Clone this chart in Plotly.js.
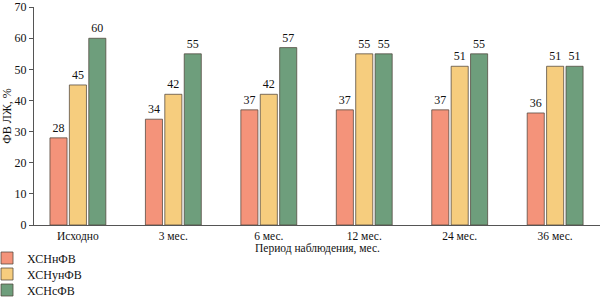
<!DOCTYPE html>
<html><head><meta charset="utf-8">
<script src="https://cdn.plot.ly/plotly-3.0.1.min.js"></script>
<style>html,body{margin:0;padding:0;background:#fff}</style>
</head><body>
<div id="chart" style="width:600px;height:298px"></div>
<script>
var categories = ["Исходно", "3 мес.", "6 мес.", "12 мес.", "24 мес.", "36 мес."];
var seriesNames = ["ХСНнФВ", "ХСНунФВ", "ХСНсФВ"];
var hfrEF = [28, 34, 37, 37, 37, 36];
var hfmrEF = [45, 42, 42, 55, 51, 51];
var hfpEF = [60, 55, 57, 55, 55, 51];
var yTicks = [0, 10, 20, 30, 40, 50, 60, 70];
var xTitle = "Период наблюдения, мес.";
var yTitle = "ФВ ЛЖ, %";

var colors = ["#F4937A", "#F6CD7E", "#6E9E7C"];
var values = [hfrEF, hfmrEF, hfpEF];
var legendIds = ["legend", "legend2", "legend3"];
var serif = "Liberation Serif";

var traces = values.map(function (v, i) {
  return {
    type: "bar",
    name: seriesNames[i],
    legend: legendIds[i],
    x: categories,
    y: v,
    text: v.map(String),
    textposition: "outside",
    textfont: {family: serif, size: 12, color: "#111"},
    cliponaxis: false,
    marker: {color: colors[i], line: {color: "rgba(80,70,60,0.75)", width: 1}},
    hoverinfo: "none"
  };
});

function leg(yPx) {
  return {
    xref: "paper", yref: "container",
    x: -0.083, xanchor: "left",
    y: 1 - yPx / 298, yanchor: "middle",
    font: {family: serif, size: 12, color: "#111"},
    bgcolor: "rgba(0,0,0,0)",
    borderwidth: 0
  };
}

var layout = {
  width: 600, height: 298,
  margin: {l: 34, r: 0, t: 7, b: 73, autoexpand: false},
  paper_bgcolor: "#fff", plot_bgcolor: "#fff",
  barmode: "group",
  bargap: 0.39,
  bargroupgap: 0.12,
  font: {family: serif, size: 12, color: "#111"},
  xaxis: {
    type: "category",
    range: [-0.46, 5.47],
    showline: true, linecolor: "#555", linewidth: 1,
    ticks: "", showgrid: false, zeroline: false,
    tickfont: {family: serif, size: 11.5, color: "#111"}
  },
  yaxis: {
    range: [0, 70.05],
    tickvals: yTicks,
    ticktext: yTicks.map(String),
    ticklabeloverflow: "allow",
    showline: true, linecolor: "#555", linewidth: 1,
    ticks: "outside", ticklen: 4, tickcolor: "#555",
    showgrid: false, zeroline: false,
    tickfont: {family: serif, size: 12, color: "#111"},
    title: {text: yTitle, font: {family: serif, size: 12, color: "#111"}, standoff: 2}
  },
  annotations: [{
    text: xTitle, xref: "paper", yref: "paper",
    x: 0.5, y: -0.108, xanchor: "center", yanchor: "middle",
    showarrow: false, font: {family: serif, size: 11.5, color: "#111"}
  }],
  showlegend: true,
  legend: leg(258),
  legend2: leg(274),
  legend3: leg(290)
};

Plotly.newPlot("chart", traces, layout, {staticPlot: true, displayModeBar: false});
</script>
</body></html>
